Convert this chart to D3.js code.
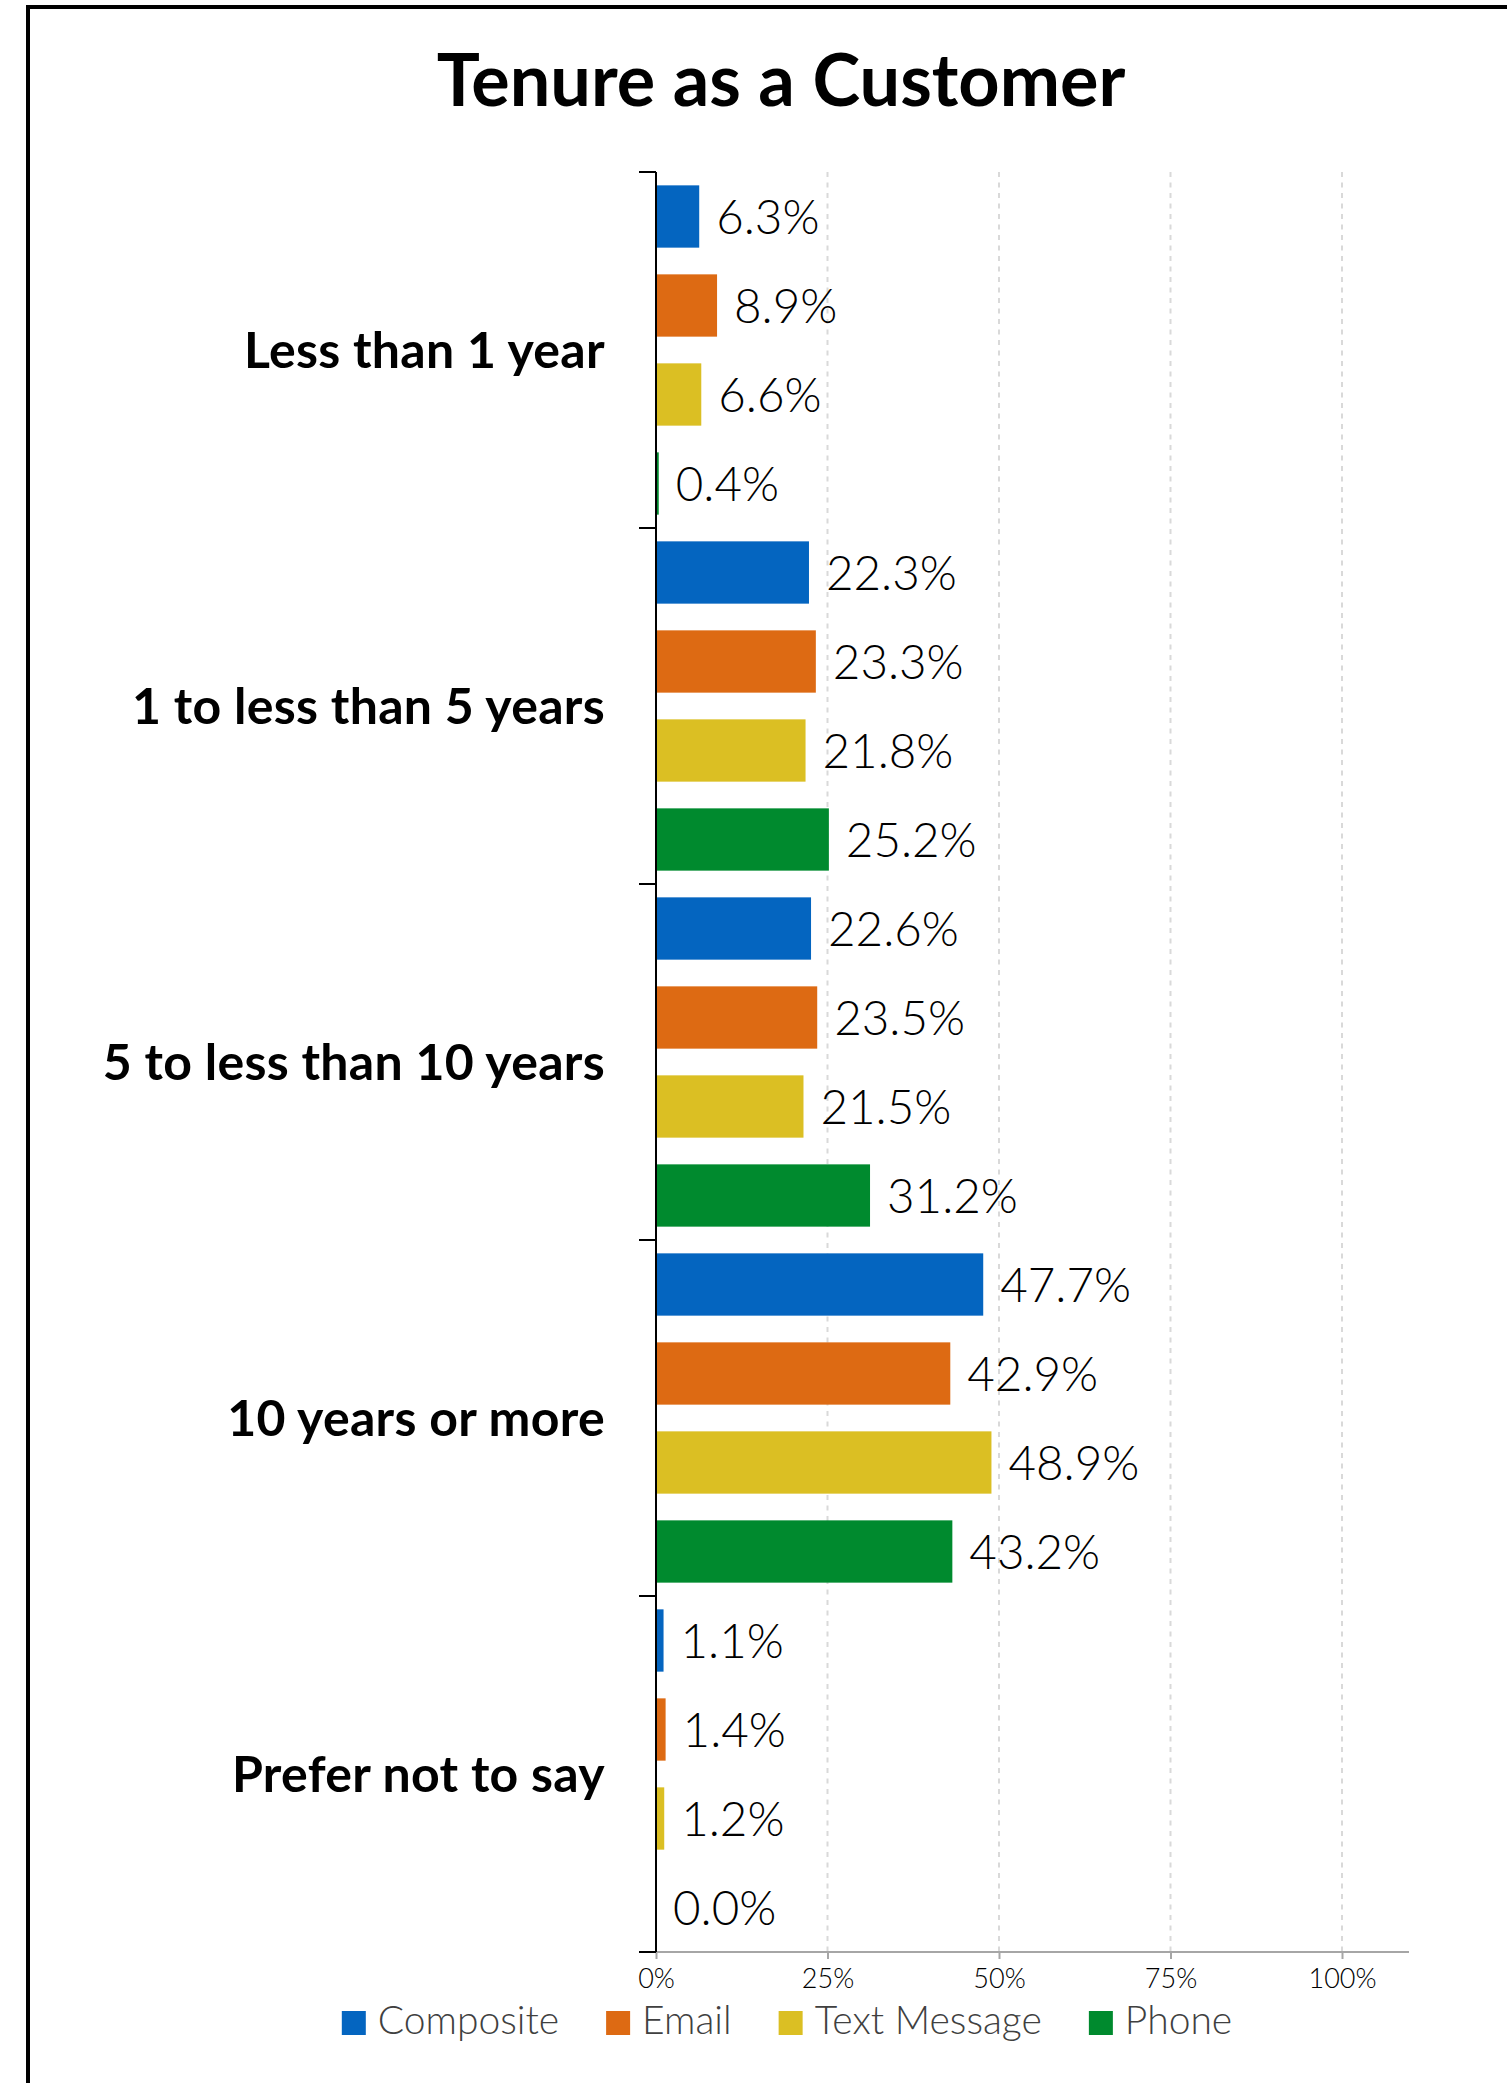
<!DOCTYPE html>
<html>
<head>
<meta charset="utf-8">
<script src="https://cdn.jsdelivr.net/npm/d3@7"></script>
<style>
  html, body { margin: 0; padding: 0; background: #fff; }
  svg { display: block; }
</style>
</head>
<body>
<svg id="chart" width="1507" height="2083"></svg>
<script>
// ---- data ----
const title = "Tenure as a Customer";
const categories = ["Less than 1 year", "1 to less than 5 years", "5 to less than 10 years", "10 years or more", "Prefer not to say"];
const seriesNames = ["Composite", "Email", "Text Message", "Phone"];
const composite   = [6.3, 22.3, 22.6, 47.7, 1.1];
const email       = [8.9, 23.3, 23.5, 42.9, 1.4];
const textMessage = [6.6, 21.8, 21.5, 48.9, 1.2];
const phone       = [0.4, 25.2, 31.2, 43.2, 0.0];
const xTicks = [0, 25, 50, 75, 100];
const seriesColors = ["#0465C0", "#DD6A13", "#DBBF23", "#008A2E"];

const seriesValues = [composite, email, textMessage, phone];

// ---- layout ----
const W = 1507, H = 2083;
const svg = d3.select("#chart");

// frame
svg.append("path")
  .attr("d", `M28,${H + 10} L28,7 L${W + 10},7`)
  .attr("fill", "none").attr("stroke", "#000").attr("stroke-width", 4);

const x = d3.scaleLinear().domain([0, 100]).range([656, 1342]);
const y = d3.scaleBand().domain(categories).range([172, 1952]).padding(0);
const ys = d3.scaleBand().domain(seriesNames).range([0, y.bandwidth()])
  .paddingInner(0.3).paddingOuter(0.15);
const color = d3.scaleOrdinal().domain(seriesNames).range(seriesColors);

// title
svg.append("text")
  .attr("x", 781).attr("y", 106)
  .attr("text-anchor", "middle")
  .attr("font-family", "Lato, 'Open Sans', sans-serif")
  .attr("font-weight", 700)
  .attr("font-size", 72)
  .attr("fill", "#000")
  .text(title);

// gridlines
svg.append("g").selectAll("line")
  .data(xTicks.filter(d => d > 0))
  .join("line")
  .attr("x1", d => x(d)).attr("x2", d => x(d))
  .attr("y1", y.range()[0]).attr("y2", y.range()[1])
  .attr("stroke", "#d9d9d9").attr("stroke-width", 2)
  .attr("stroke-dasharray", "5,5.5");

// bottom axis
const xAxis = d3.axisBottom(x).tickValues(xTicks).tickFormat(d => d + "%").tickSize(7).tickPadding(10);
const gx = svg.append("g").attr("transform", `translate(0,${y.range()[1]})`).call(xAxis);
gx.select(".domain").remove();
gx.selectAll(".tick line").attr("stroke", "#a6a6a6").attr("stroke-width", 2);
gx.selectAll(".tick text")
  .attr("font-family", "Lato, sans-serif").attr("font-weight", 300)
  .attr("font-size", 27).attr("fill", "#000");
gx.append("line")
  .attr("x1", x(0)).attr("x2", 1409).attr("y1", 0).attr("y2", 0)
  .attr("stroke", "#a6a6a6").attr("stroke-width", 2);

// bars
const groups = svg.append("g").selectAll("g")
  .data(categories)
  .join("g")
  .attr("transform", d => `translate(0,${y(d)})`);

groups.each(function(cat, ci) {
  const g = d3.select(this);
  const rows = seriesNames.map((s, si) => ({ s, v: seriesValues[si][ci] }));
  g.selectAll("rect").data(rows).join("rect")
    .attr("x", x(0))
    .attr("y", d => ys(d.s))
    .attr("width", d => x(d.v) - x(0))
    .attr("height", ys.bandwidth())
    .attr("fill", d => color(d.s));
  g.selectAll("text").data(rows).join("text")
    .attr("x", d => x(d.v) + 17)
    .attr("y", d => ys(d.s) + ys.bandwidth() / 2)
    .attr("dy", "0.36em")
    .attr("font-family", "Lato, sans-serif")
    .attr("font-weight", 300)
    .attr("font-size", 47.5)
    .attr("fill", "#000")
    .text(d => d.v.toFixed(1) + "%");
});

// left axis
const gy = svg.append("g");
gy.append("line")
  .attr("x1", x(0)).attr("x2", x(0))
  .attr("y1", y.range()[0]).attr("y2", y.range()[1])
  .attr("stroke", "#000").attr("stroke-width", 2);
const boundaries = categories.map(c => y(c)).concat([y.range()[1]]);
gy.selectAll("line.tk").data(boundaries).join("line")
  .attr("class", "tk")
  .attr("x1", x(0) - 17).attr("x2", x(0))
  .attr("y1", d => d).attr("y2", d => d)
  .attr("stroke", "#000").attr("stroke-width", 2);
gy.selectAll("text").data(categories).join("text")
  .attr("x", x(0) - 51)
  .attr("y", d => y(d) + y.bandwidth() / 2)
  .attr("dy", "0.36em")
  .attr("text-anchor", "end")
  .attr("font-family", "Lato, sans-serif")
  .attr("font-weight", 700)
  .attr("font-size", 50)
  .attr("letter-spacing", 0.3)
  .attr("fill", "#000")
  .text(d => d);

// legend
const legend = svg.append("g");
let lx = 0;
seriesNames.forEach((s, i) => {
  const it = legend.append("g");
  it.append("rect").attr("x", 0).attr("y", -23).attr("width", 24).attr("height", 24).attr("fill", color(s));
  const t = it.append("text").attr("x", 36).attr("y", 0)
    .attr("font-family", "Lato, sans-serif").attr("font-weight", 300)
    .attr("font-size", 39).attr("fill", "#404040").text(s);
  const w = t.node().getComputedTextLength();
  it.attr("transform", `translate(${lx},0)`);
  lx += 36 + w + 47;
});
const totalW = lx - 47;
legend.attr("transform", `translate(${787 - totalW / 2},2034)`);
</script>
</body>
</html>
